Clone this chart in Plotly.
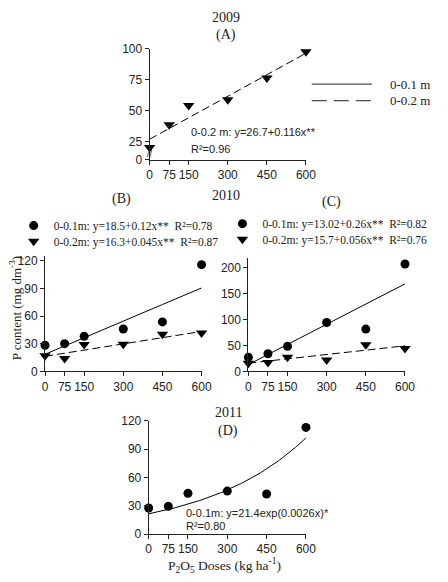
import numpy as np
import plotly.graph_objects as go

W, H = 448, 582

doses = [0, 75, 150, 300, 450, 600]
x_ticks = [0, 75, 150, 300, 450, 600]

# 2009 (A) - 0-0.2 m only
a_02 = [20, 38.4, 54, 58.7, 76.3, 97.6]
# 2010 (B)
b_01 = [28.2, 30, 38, 45.9, 53.6, 115.8]
b_02 = [17, 14, 29, 29.3, 40.2, 41.6]
# 2010 (C)
c_01 = [27, 34, 48.3, 94.3, 81.7, 207.5]
c_02 = [15.7, 17, 27, 22, 51.5, 44]
# 2011 (D)
d_01 = [27.6, 29.3, 43.1, 45.5, 42.4, 113]

# fitted equations (coefficients as printed)
fit_a02 = (26.7, 0.116)
fit_b01 = (18.5, 0.12)
fit_b02 = (16.3, 0.045)
fit_c01 = (13.02, 0.26)
fit_c02 = (15.7, 0.056)
fit_d01 = (21.4, 0.0026)

xs = np.linspace(0, 600, 121)

def px(x):
    return x / W

def py(y):
    return 1 - y / H

fig = go.Figure()
DASH = "8px,4px"
SERIF = "Liberation Serif"
SANS = "Liberation Sans"

def pts(x, y, axis, symbol, name, legend=None):
    fig.add_trace(go.Scatter(
        x=x, y=y, mode="markers", xaxis="x" + axis, yaxis="y" + axis,
        marker=dict(symbol=symbol, size=9 if symbol == "circle" else 10, color="black"),
        cliponaxis=False, name=name, showlegend=legend is not None,
        legend=legend if legend else "legend"))

def line(y, axis, dash, name):
    fig.add_trace(go.Scatter(
        x=xs, y=y, mode="lines", xaxis="x" + axis, yaxis="y" + axis,
        line=dict(color="black", width=1, dash=dash), showlegend=False,
        cliponaxis=False, name=name))

# A
line(fit_a02[0] + fit_a02[1] * xs, "", DASH, "A 0-0.2 m fit")
pts(doses, a_02, "", "triangle-down", "A 0-0.2 m")
# B
line(fit_b01[0] + fit_b01[1] * xs, "2", "solid", "B 0-0.1 m fit")
line(fit_b02[0] + fit_b02[1] * xs, "2", DASH, "B 0-0.2 m fit")
pts(doses, b_01, "2", "circle", "0-0.1m: y=18.5+0.12x**  R²=0.78", "legend")
pts(doses, b_02, "2", "triangle-down", "0-0.2m: y=16.3+0.045x**  R²=0.87", "legend2")
# C
line(fit_c01[0] + fit_c01[1] * xs, "3", "solid", "C 0-0.1 m fit")
line(fit_c02[0] + fit_c02[1] * xs, "3", DASH, "C 0-0.2 m fit")
pts(doses, c_01, "3", "circle", "0-0.1m: y=13.02+0.26x**  R²=0.82", "legend3")
pts(doses, c_02, "3", "triangle-down", "0-0.2m: y=15.7+0.056x**  R²=0.76", "legend4")
# D
line(fit_d01[0] * np.exp(fit_d01[1] * xs), "4", "solid", "D 0-0.1 m fit")
pts(doses, d_01, "4", "circle", "D 0-0.1 m")

def xax(x0, x1, y_anchor):
    return dict(domain=[px(x0), px(x1)], range=[0, 600], tickvals=x_ticks,
                showline=True, linecolor="#222", linewidth=1, ticks="outside",
                ticklen=4, tickcolor="#222", showgrid=False, zeroline=False,
                anchor=y_anchor, tickfont=dict(family=SANS, size=12, color="#222"))

def yax(y0, y1, rng, tickvals, x_anchor, ticktext=None):
    d = dict(domain=[py(y0), py(y1)], range=rng, tickvals=tickvals,
             showline=True, linecolor="#222", linewidth=1, ticks="outside",
             ticklen=4, tickcolor="#222", showgrid=False, zeroline=False,
             anchor=x_anchor, tickfont=dict(family=SANS, size=12, color="#222"))
    if ticktext:
        d["ticktext"] = ticktext
    return d

def leg(x, y):
    return dict(x=px(x), y=py(y), xanchor="left", yanchor="middle",
                bgcolor="rgba(0,0,0,0)", font=dict(family=SERIF, size=11.5, color="#222"),
                itemwidth=30)

fig.update_layout(
    width=W, height=H, margin=dict(l=0, r=0, t=0, b=0),
    paper_bgcolor="white", plot_bgcolor="white",
    xaxis=xax(151, 312, "y"),
    yaxis=yax(156.7, 42.7, [10, 100], [10, 25, 50, 75, 100], "x", ["0", "25", "50", "75", "100"]),
    xaxis2=xax(43.3, 204.5, "y2"),
    yaxis2=yax(373.3, 255.3, [0, 125], [0, 30, 60, 90, 120], "x2"),
    xaxis3=xax(252.7, 414, "y3"),
    yaxis3=yax(373.3, 256.7, [0, 220], [0, 50, 100, 150, 200], "x3"),
    xaxis4=xax(150, 312, "y4"),
    yaxis4=yax(540, 424, [0, 120], [0, 30, 60, 90, 120], "x4"),
    legend=leg(11, 224),
    legend2=leg(11, 240),
    legend3=leg(226, 222),
    legend4=leg(226, 238),
)

ann = []
def text(t, x, y, size=13, family=SERIF, xanchor="center", angle=0):
    ann.append(dict(text=t, x=px(x), y=py(y), xref="paper", yref="paper",
                    xanchor=xanchor, yanchor="middle", showarrow=False,
                    textangle=angle, font=dict(family=family, size=size, color="#222")))

text("2009", 230, 11, 14)
text("(A)", 230, 29, 14)
text("2010", 230, 193, 14)
text("(B)", 122, 197, 14)
text("(C)", 338, 200, 14)
text("2011", 232, 415, 14)
text("(D)", 232, 434, 14)
text("0-0.2 m: y=26.7+0.116x**", 192, 128, 11, SANS, "left")
text("R²=0.96", 192, 145, 11, SANS, "left")
text("0-0.1m: y=21.4exp(0.0026x)*", 186, 518, 11, SANS, "left")
text("R²=0.80", 186, 532, 11, SANS, "left")
text("0-0.1 m", 397, 79, 13, SERIF, "left")
text("0-0.2 m", 397, 96, 13, SERIF, "left")
text("P content (mg dm<sup>-3</sup>)", 12, 309, 13, SERIF, "center", -90)
text("P<sub>2</sub>O<sub>5</sub> Doses (kg ha<sup>-1</sup>)", 228, 572, 13.5, SERIF)
text("//", 151, 151, 9, SANS)
fig.update_layout(annotations=ann)

fig.add_shape(type="line", xref="paper", yref="paper", x0=px(318), x1=px(380),
              y0=py(79), y1=py(79), line=dict(color="#222", width=1))
fig.add_shape(type="line", xref="paper", yref="paper", x0=px(318), x1=px(380),
              y0=py(96), y1=py(96), line=dict(color="#222", width=1, dash="15px,7px"))

fig.write_html("out.html")
